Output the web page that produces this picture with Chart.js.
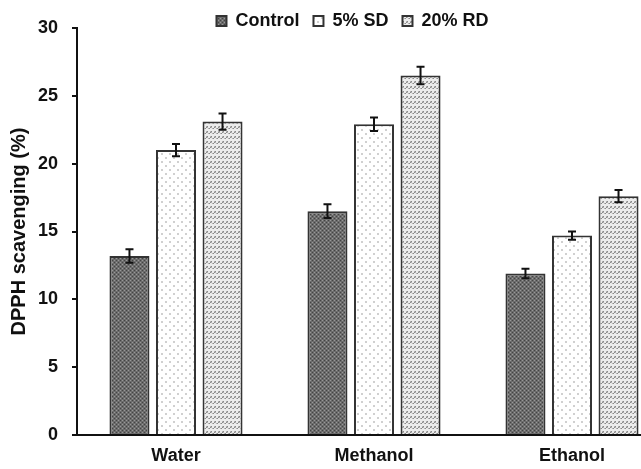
<!DOCTYPE html>
<html>
<head>
<meta charset="utf-8">
<script src="https://cdn.jsdelivr.net/npm/chart.js@4"></script>
<style>
  html, body { margin: 0; padding: 0; background: #fff; overflow: hidden; width: 641px; height: 469px; }
  canvas { display: block; }
</style>
</head>
<body>
<canvas id="dpphChart" width="672" height="469"></canvas>
<script>
const categories = ["Water", "Methanol", "Ethanol"];
const seriesNames = ["Control", "5% SD", "20% RD"];

const control = [13.2, 16.5, 11.9];
const controlErr = [0.5, 0.5, 0.35];
const sd5 = [21.0, 22.9, 14.7];
const sd5Err = [0.45, 0.5, 0.3];
const rd20 = [23.1, 26.5, 17.6];
const rd20Err = [0.6, 0.65, 0.45];

const yTicks = [0, 5, 10, 15, 20, 25, 30];

// fill patterns, like the print figure
function makePattern(w, h, paint) {
  const c = document.createElement("canvas");
  c.width = w; c.height = h;
  const g = c.getContext("2d");
  paint(g);
  return g.createPattern(c, "repeat");
}

const darkCheck = makePattern(4, 4, g => {
  g.fillStyle = "#6c6c6c"; g.fillRect(0, 0, 4, 4);
  g.fillStyle = "#444"; g.fillRect(0, 0, 1, 1); g.fillRect(2, 2, 1, 1);
  g.fillStyle = "#989898"; g.fillRect(2, 0, 1, 1); g.fillRect(0, 2, 1, 1);
});

const lightDots = makePattern(8, 8, g => {
  g.fillStyle = "#fff"; g.fillRect(0, 0, 8, 8);
  g.fillStyle = "#d0d0d0"; g.fillRect(1, 1, 2, 2); g.fillRect(5, 5, 2, 2);
});

const diagRows = makePattern(4, 5, g => {
  g.fillStyle = "#ececec"; g.fillRect(0, 0, 4, 5);
  g.fillStyle = "#8a8a8a";
  g.fillRect(3, 1, 1, 1); g.fillRect(2, 2, 1, 1); g.fillRect(1, 3, 1, 1);
  g.fillStyle = "#b4b4b4";
  g.fillRect(0, 3, 1, 1); g.fillRect(2, 1, 1, 1); g.fillRect(3, 2, 1, 1);
});

const errors = [controlErr, sd5Err, rd20Err];

const errorBars = {
  id: "errorBars",
  afterDatasetsDraw(chart) {
    const ctx = chart.ctx;
    const y = chart.scales.y;
    ctx.save();
    ctx.strokeStyle = "#111";
    ctx.lineWidth = 2;
    chart.data.datasets.forEach((ds, i) => {
      chart.getDatasetMeta(i).data.forEach((bar, j) => {
        const v = ds.data[j], e = errors[i][j];
        const top = y.getPixelForValue(v + e);
        const bot = y.getPixelForValue(v - e);
        ctx.beginPath();
        ctx.moveTo(bar.x, top); ctx.lineTo(bar.x, bot);
        ctx.moveTo(bar.x - 4, top); ctx.lineTo(bar.x + 4, top);
        ctx.moveTo(bar.x - 4, bot); ctx.lineTo(bar.x + 4, bot);
        ctx.stroke();
      });
    });
    ctx.restore();
  }
};

// nudge legend to where the figure has it (bottom left alone so clip box still covers text)
const legendNudge = {
  id: "legendNudge",
  afterLayout(chart) {
    const lg = chart.legend;
    lg.left += 17; lg.right += 17;
    lg.top -= 2;
  }
};

const legendFitHeight = {
  id: "legendFitHeight",
  beforeInit(chart) {
    const orig = chart.legend.fit;
    chart.legend.fit = function () {
      orig.call(this);
      this.height = 28;
    };
  }
};

const fontFam = "'Liberation Sans', Arial, sans-serif";
const bold18 = { family: fontFam, size: 18, weight: "bold" };

new Chart(document.getElementById("dpphChart"), {
  type: "bar",
  data: {
    labels: categories,
    datasets: [
      { label: seriesNames[0], data: control, backgroundColor: darkCheck },
      { label: seriesNames[1], data: sd5, backgroundColor: lightDots },
      { label: seriesNames[2], data: rd20, backgroundColor: diagRows }
    ].map(d => Object.assign(d, {
      borderColor: "#333",
      borderWidth: 2,
      categoryPercentage: 0.705,
      barPercentage: 0.86
    }))
  },
  options: {
    responsive: false,
    animation: false,
    devicePixelRatio: 1,
    layout: { padding: { left: 0, right: 1, top: 0, bottom: 0 } },
    plugins: {
      tooltip: { enabled: false },
      legend: {
        position: "top",
        labels: {
          color: "#111",
          font: bold18,
          boxWidth: 10,
          boxHeight: 10,
          padding: 14
        }
      }
    },
    scales: {
      x: {
        grid: { display: false, drawTicks: false },
        border: { color: "#111", width: 2 },
        ticks: { color: "#111", font: bold18, padding: 10 },
        afterFit(s) { s.height = 34; }
      },
      y: {
        min: 0,
        max: 30,
        afterBuildTicks(s) { s.ticks = yTicks.map(v => ({ value: v })); },
        grid: { drawOnChartArea: false, drawTicks: true, tickLength: 5, color: "#111", lineWidth: 2 },
        border: { color: "#111", width: 2 },
        ticks: { color: "#111", font: bold18, padding: 14 },
        title: {
          display: true,
          text: "DPPH scavenging (%)",
          color: "#111",
          font: { family: fontFam, size: 20, weight: "bold" },
          padding: { top: 7, bottom: 0 }
        },
        afterFit(s) { s.width = 77; }
      }
    }
  },
  plugins: [errorBars, legendNudge, legendFitHeight]
});
</script>
</body>
</html>
